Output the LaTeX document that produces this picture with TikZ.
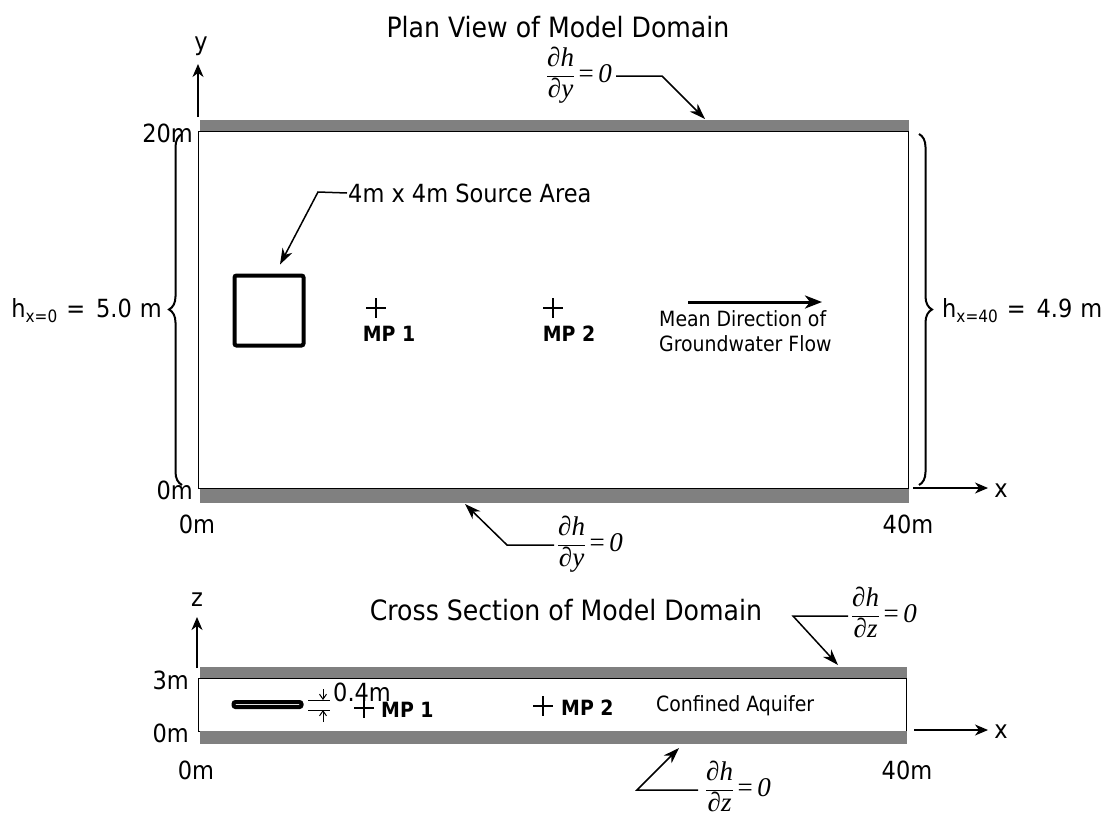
\documentclass[tikz,border=0pt]{standalone}
\usepackage{fontspec}
\setmainfont{DejaVu Sans Condensed}
\newfontfamily\formfont{Liberation Serif}
\usetikzlibrary{arrows.meta,decorations.pathreplacing,calc}

\definecolor{wallgray}{RGB}{128,128,128}

% no-flow boundary condition: dh/d#1 = 0
\newcommand{\bcgrad}[1]{{\formfont\setlength{\arrayrulewidth}{1pt}%
  \renewcommand{\arraystretch}{0.95}%
  \begin{tabular}{@{}c@{}}∂\textit{h}\\\hline ∂\textit{#1}\end{tabular}\,=\,\textit{0}}}
% head label with a lowered subscript
\newcommand{\headlbl}[2]{h\raisebox{-5pt}{\fontsize{17}{17}\selectfont x=#1}%
  \hspace{9pt}=\hspace{11pt}#2\hspace{8pt}m}

\tikzset{
  wall/.style={fill=wallgray,draw=none},
  domainbox/.style={draw,line width=1pt},
  axisarrow/.style={line width=1.2pt,-{Stealth[length=13pt,width=11pt,inset=4pt]}},
  leader/.style={line width=1.5pt,-{Stealth[length=16pt,width=11pt,inset=5pt]}},
  lbl/.style={font=\fontsize{25}{30}\selectfont,inner sep=1pt},
  titletext/.style={font=\fontsize{28}{34}\selectfont,inner sep=0pt},
  smalltext/.style={font=\fontsize{21}{25}\selectfont,inner sep=0pt},
  mptext/.style={font=\bfseries\fontsize{21}{25}\selectfont,inner sep=0pt},
  crossmark/.style={line width=2.5pt},
  formula/.style={font=\fontsize{27}{31}\selectfont,inner sep=4pt},
  bracestyle/.style={decorate,decoration={brace,amplitude=13pt},line width=2pt},
}

\begin{document}
\begin{tikzpicture}[x=1pt,y=-1pt]
\useasboundingbox (0,0) rectangle (1108,823);

% ================= plan view =================
\node[titletext] (plantitle) at (558,27) {Plan View of Model Domain};

% axes
\coordinate (yfoot) at (198,117);
\coordinate (ytip) at (198,64);
\draw[axisarrow] (yfoot) -- (ytip);
\node[lbl] (ylabel) at (201,46) {y};
\coordinate (xfoot) at (913,488);
\coordinate (xtip) at (988,488);
\draw[axisarrow] (xfoot) -- (xtip);
\node[lbl] (xlabel) at (1001,491) {x};

% no-flow walls and domain
\fill[wall] (200,120) rectangle (909,131);
\draw[domainbox] (198,131) rectangle (908,488);
\fill[wall] (200,489) rectangle (909,503);

\node[lbl,anchor=east] (y20) at (194,133) {20m};
\node[lbl,anchor=east] (y0) at (194,490) {0m};
\node[lbl] (x0) at (197,524) {0m};
\node[lbl] (x40) at (908,524) {40m};

% constant-head boundaries
\draw[bracestyle] (182,485) -- (182,134);
\node[lbl,anchor=east] (hleft) at (163,311) {\headlbl{0}{5.0}};
\draw[bracestyle] (919,134) -- (919,485);
\node[lbl,anchor=west] (hright) at (941,311) {\headlbl{40}{4.9}};

% no-flow annotations
\node[formula,anchor=east] (gtop) at (616,76) {\bcgrad{y}};
\coordinate (gtopbend) at (662,76);
\coordinate (gtoptip) at (705,119);
\draw[leader] (gtop.east) -- (gtopbend) -- (gtoptip);

\node[formula,anchor=west] (gbot) at (554,545) {\bcgrad{y}};
\coordinate (gbotbend) at (507,545);
\coordinate (gbottip) at (465,504);
\draw[leader] (gbot.west) -- (gbotbend) -- (gbottip);

% source area
\node[draw,line width=4pt,rounded corners=2pt,minimum width=69pt,minimum height=70pt,inner sep=0pt]
  (src) at (269,310.5) {};
\node[lbl,anchor=west] (srclabel) at (347,193) {4m x 4m Source Area};
\coordinate (srcbend) at (318,192);
\draw[leader] (srclabel.west) -- (srcbend) -- ($(src.north)+(11,-9)$);

% monitoring points
\coordinate (mp1) at (376,308);
\draw[crossmark] (mp1) ++(-10,0) -- ++(20,0) (mp1) ++(0,-10) -- ++(0,20);
\node[mptext] (mp1label) at (389,334) {MP 1};
\coordinate (mp2) at (553,308);
\draw[crossmark] (mp2) ++(-10,0) -- ++(20,0) (mp2) ++(0,-10) -- ++(0,20);
\node[mptext] (mp2label) at (569,334) {MP 2};

% mean flow direction
\coordinate (flowstart) at (688,302);
\coordinate (flowend) at (822,302);
\draw[line width=3pt,-{Stealth[length=17pt,width=13pt,inset=5pt]}] (flowstart) -- (flowend);
\node[smalltext,anchor=north west,align=left] (flowlabel) at (659,310)
  {Mean Direction of\\Groundwater Flow};

% ================= cross section =================
\node[titletext] (xstitle) at (566,610) {Cross Section of Model Domain};

\coordinate (zfoot) at (197,668);
\coordinate (ztip) at (197,617);
\draw[axisarrow] (zfoot) -- (ztip);
\node[lbl] (zlabel) at (197,600) {z};
\coordinate (xsfoot) at (914,730);
\coordinate (xstip) at (988,730);
\draw[axisarrow] (xsfoot) -- (xstip);
\node[lbl] (xslabel) at (1001,732) {x};

\fill[wall] (200,667) rectangle (907,678);
\draw[domainbox] (198,678) rectangle (906,731);
\fill[wall] (200,731) rectangle (907,744);

\node[lbl,anchor=east] (z3) at (190,680) {3m};
\node[lbl,anchor=east] (z0) at (190,733) {0m};
\node[lbl] (xs0) at (196,770) {0m};
\node[lbl] (xs40) at (907,770) {40m};

% source slab and its thickness
\node[draw,line width=4pt,rounded corners=2pt,minimum width=68pt,minimum height=5pt,inner sep=0pt]
  (slab) at (267.5,704.5) {};
\coordinate (dimtop) at (308,700);
\coordinate (dimbot) at (308,710);
\draw[line width=1pt] (dimtop) -- ++(22,0) (dimbot) -- ++(22,0);
\draw[line width=1pt,-{Straight Barb[length=5pt,width=7pt]}] (323,689) -- (323,700);
\draw[line width=1pt,-{Straight Barb[length=5pt,width=7pt]}] (323,722) -- (323,710);
\node[lbl,anchor=west,inner sep=0pt] (dimlabel) at (333,692) {0.4m};

% monitoring points in section
\coordinate (xmp1) at (364,708);
\draw[crossmark] (xmp1) ++(-10,0) -- ++(20,0) (xmp1) ++(0,-10) -- ++(0,20);
\node[mptext,anchor=west] (xmp1label) at (381,710) {MP 1};
\coordinate (xmp2) at (543,706);
\draw[crossmark] (xmp2) ++(-10,0) -- ++(20,0) (xmp2) ++(0,-10) -- ++(0,20);
\node[mptext,anchor=west] (xmp2label) at (561,708) {MP 2};

\node[smalltext,anchor=west] (aquifer) at (656,706) {Confined Aquifer};

% no-flow annotations in section
\node[formula,anchor=west] (gztop) at (848,616) {\bcgrad{z}};
\coordinate (gztopbend) at (793,616);
\coordinate (gztoptip) at (838,665);
\draw[leader] (gztop.west) -- (gztopbend) -- (gztoptip);

\node[formula,anchor=west] (gzbot) at (702,790) {\bcgrad{z}};
\coordinate (gzbotbend) at (637,790);
\coordinate (gzbottip) at (679,748);
\draw[leader] ($(gzbot.west)+(-4,0)$) -- (gzbotbend) -- (gzbottip);

\end{tikzpicture}
\end{document}
